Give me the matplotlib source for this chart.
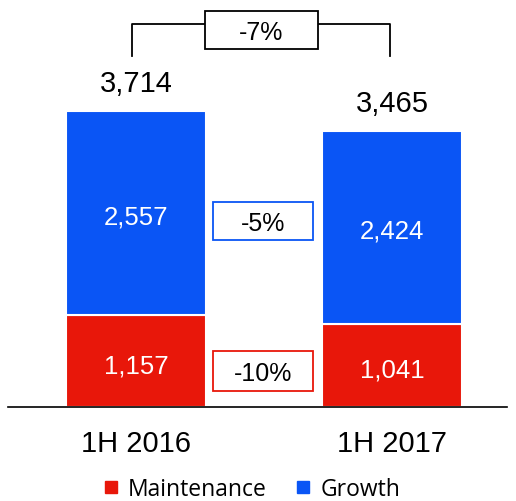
import matplotlib
matplotlib.use("Agg")
import matplotlib.pyplot as plt
from matplotlib.patches import Rectangle
from matplotlib.lines import Line2D

categories = ["1H 2016", "1H 2017"]
maintenance = [1157, 1041]
growth = [2557, 2424]
totals = [3714, 3465]
series_names = ["Maintenance", "Growth"]
change_total = "-7%"
change_growth = "-5%"
change_maint = "-10%"

RED = "#E8170A"
BLUE = "#0A55F5"
FONT = "Liberation Sans"

fig = plt.figure(figsize=(5.16, 5.02), dpi=100)
ax = fig.add_axes([0, 0, 1, 1])
upp = 12.55  # data units per pixel (vertical)
ax.set_xlim(-136 / 256, 380 / 256)
ax.set_ylim(-94 * upp, 408 * upp)
ax.axis("off")

x = [0, 1]
w = 0.547
ax.bar(x, maintenance, width=w, color=RED, edgecolor="white", linewidth=1.5)
ax.bar(x, growth, width=w, bottom=maintenance, color=BLUE, edgecolor="white", linewidth=1.5)

# baseline
ax.plot([-0.5, 1.45], [0, 0], color="black", lw=1.2, clip_on=False)

for i in range(2):
    ax.annotate(f"{maintenance[i]:,}", (x[i], maintenance[i] / 2), xytext=(0, -3),
                textcoords="offset points", ha="center", va="center",
                color="white", fontsize=18.5, family=FONT)
    ax.annotate(f"{growth[i]:,}", (x[i], maintenance[i] + growth[i] / 2), xytext=(0, -2.5),
                textcoords="offset points", ha="center", va="center",
                color="white", fontsize=18.5, family=FONT)
    ax.annotate(f"{totals[i]:,}", (x[i], totals[i]), xytext=(0, 20), textcoords="offset points",
                ha="center", va="center", fontsize=21, family=FONT)
    ax.annotate(categories[i], (x[i], 0), xytext=(0, -26), textcoords="offset points",
                ha="center", va="center", fontsize=21, family=FONT)

def pbox(x0, x1, ytop_px, ybot_px, color, label, lw=1.3):
    y0 = (408 - ybot_px) * upp
    y1 = (408 - ytop_px) * upp
    ax.add_patch(Rectangle((x0, y0), x1 - x0, y1 - y0, fill=True, facecolor="white",
                           edgecolor=color, lw=lw, zorder=3))
    ax.annotate(label, ((x0 + x1) / 2, (y0 + y1) / 2), xytext=(0, -1.5),
                textcoords="offset points", ha="center", va="center",
                fontsize=18, family=FONT, zorder=4)

bx0, bx1 = 0.301, 0.691
pbox(bx0, bx1, 203, 241, BLUE, change_growth)
pbox(bx0, bx1, 352, 392, RED, change_maint)

# bracket
yl = (408 - 57) * upp
yt = (408 - 25) * upp
xl = (132 - 136) / 256
xr = (390 - 136) / 256
tx0 = (205 - 136) / 256
tx1 = (318 - 136) / 256
ax.plot([xl, xl, tx0], [yl, yt, yt], color="black", lw=1.3)
ax.plot([tx1, xr, xr], [yt, yt, yl], color="black", lw=1.3)
pbox(tx0, tx1, 12, 50, "black", change_total)

handles = [Line2D([], [], marker="s", ls="", color=RED, markersize=8.5),
           Line2D([], [], marker="s", ls="", color=BLUE, markersize=8.5)]
fig.legend(handles, series_names, loc="center", bbox_to_anchor=(251 / 516, 1 - 490 / 502),
           ncol=2, frameon=False, prop={"family": "Open Sans", "size": 16.5},
           handletextpad=0.35, columnspacing=1.2, handlelength=0.8)

fig.savefig("out.png", dpi=100)
